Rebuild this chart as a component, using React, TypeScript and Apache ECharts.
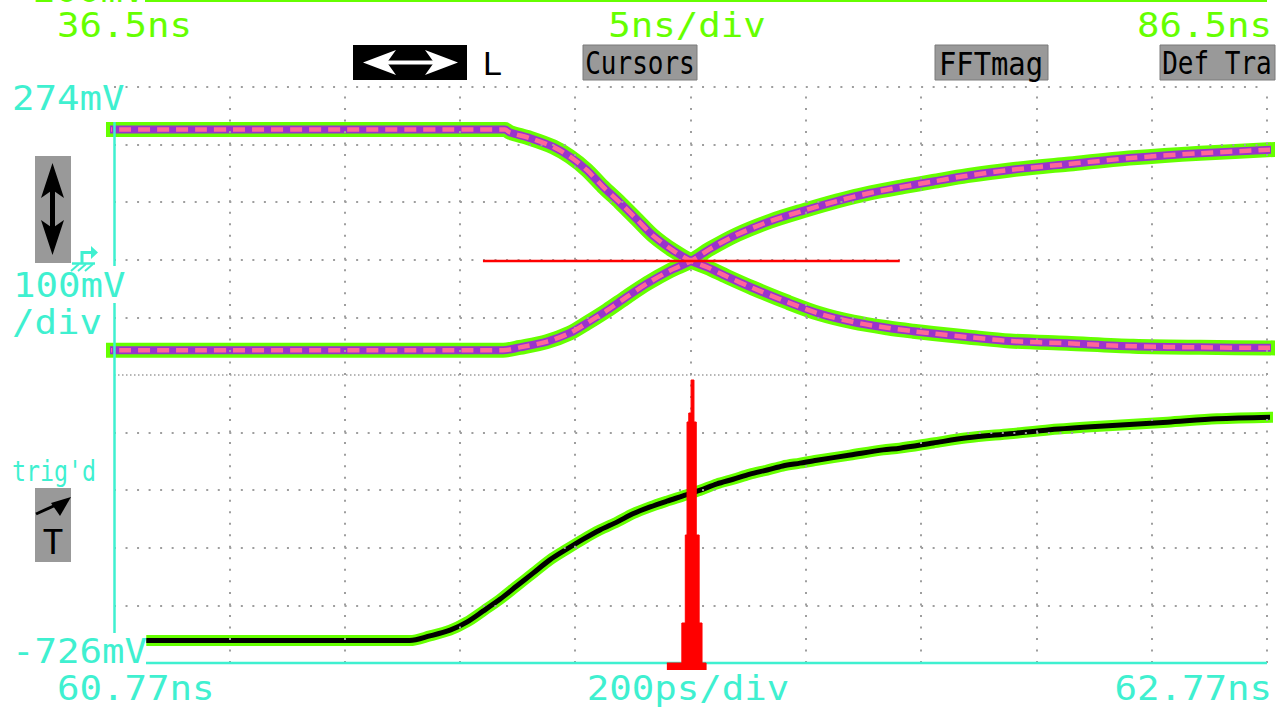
import React, { useEffect, useRef } from "react";
import * as echarts from "echarts";

// ---- axis ranges (lower time base 60.77 ns .. 62.77 ns, 200 ps/div; 274 mV .. -726 mV, 100 mV/div)
const TIME_MIN = 60.77;
const TIME_MAX = 62.77;
const VOLT_MIN = -726;
const VOLT_MAX = 274;
const timeDivLines = [60.97, 61.17, 61.37, 61.57, 61.77, 61.97, 62.17, 62.37, 62.57, 62.77];
const voltDivLines = [274, 174, 74, -26, -126, -326, -426, -526, -626];
const panelSplitVolt = [-226];

// ---- upper window: falling trace
const fallTime = [60.746, 61.448, 61.457, 61.492, 61.532, 61.561, 61.59, 61.618, 61.648, 61.677, 61.705, 61.74, 61.771, 61.799, 61.833, 61.878, 61.937, 61.995, 62.052, 62.111, 62.156, 62.191, 62.25, 62.324, 62.423, 62.538, 62.654, 62.793];
const fallVolt = [200, 200, 195, 185, 170, 153, 130, 101, 73, 44, 16, -10, -28, -39, -55, -75, -99, -120, -134, -144, -150, -154, -160, -167, -171, -176, -178, -179];

// ---- upper window: rising trace
const riseTime = [60.746, 61.445, 61.474, 61.521, 61.561, 61.59, 61.625, 61.66, 61.695, 61.734, 61.771, 61.804, 61.851, 61.908, 61.965, 62.024, 62.081, 62.139, 62.191, 62.25, 62.324, 62.423, 62.538, 62.654, 62.793];
const riseVolt = [-183, -183, -178, -168, -153, -136, -114, -90, -67, -45, -28, -7, 18, 41, 59, 76, 90, 101, 110, 120, 130, 140, 151, 159, 166];

// ---- lower window: edge trace
const edgeTime = [60.826, 61.283, 61.318, 61.353, 61.382, 61.41, 61.44, 61.469, 61.497, 61.526, 61.556, 61.584, 61.613, 61.643, 61.67, 61.7, 61.729, 61.757, 61.787, 61.816, 61.844, 61.873, 61.903, 61.93, 61.96, 61.989, 62.047, 62.104, 62.133, 62.191, 62.25, 62.324, 62.394, 62.48, 62.597, 62.683, 62.793];
const edgeVolt = [-687, -687, -679, -669, -655, -636, -615, -592, -570, -547, -528, -511, -495, -481, -467, -455, -445, -436, -426, -415, -407, -398, -391, -384, -379, -374, -365, -356, -353, -344, -335, -328, -321, -315, -308, -302, -299];

// ---- histogram window (red cursor line) and jitter histogram
const cursorTime = [61.41, 62.133];
const cursorVolt = -28;
const histTime = [61.729, 61.755, 61.761, 61.764, 61.767, 61.771, 61.776, 61.78, 61.785, 61.79, 61.797];
const histHits = [7, 47, 135, 248, 257, 290, 248, 135, 47, 7, 0];
const HIST_MAX = 290;

const GREEN = "#66ff00";
const CYAN = "#3ff0d0";
const PINK = "#ff6699";
const PURPLE = "#9933cc";
const GRAY = "#999999";
const DOT = "#9e9e9e";
const MONO = "'DejaVu Sans Mono', monospace";

const pairs = (xs: number[], ys: number[]) => xs.map((x, i) => [x, ys[i]]);

function label(text: string, x: number, y: number, o: any = {}) {
  return {
    type: "text",
    x,
    y,
    scaleX: o.sx ?? 1.1,
    scaleY: o.sy ?? 1,
    z: 100,
    silent: true,
    style: {
      text,
      fill: o.color ?? CYAN,
      fontSize: o.size ?? 34,
      fontFamily: o.font ?? MONO,
      align: o.align ?? "left",
      verticalAlign: "middle",
    },
  };
}

function traceLayers(name: string, data: number[][], layers: any[]) {
  return layers.map((l, i) => ({
    name: name + i,
    type: "line",
    xAxisIndex: 0,
    yAxisIndex: 0,
    data,
    showSymbol: false,
    symbol: "none",
    clip: false,
    silent: true,
    smooth: 0.3,
    z: 3 + i,
    lineStyle: { color: l.color, width: l.width, type: l.type ?? "solid", cap: "butt", join: "round" },
  }));
}

export default function App() {
  const ref = useRef<HTMLDivElement>(null);
  useEffect(() => {
    document.body.style.margin = "0";
    const chart = echarts.init(ref.current!, null, { renderer: "svg" });
    const fall = pairs(fallTime, fallVolt);
    const rise = pairs(riseTime, riseVolt);
    const edge = pairs(edgeTime, edgeVolt);
    const hist = pairs(histTime, histHits);

    const rowStyle = { color: DOT, width: 2, type: [2, 9.53], cap: "butt" };
    const colStyle = { color: DOT, width: 2, type: [2, 9.52], cap: "butt" };
    const splitStyle = { color: DOT, width: 1.5, type: [1.5, 2.5], cap: "butt" };

    const upperLayers = [
      { color: GREEN, width: 15 },
      { color: PURPLE, width: 8 },
      { color: PINK, width: 4.5, type: [12, 7] },
    ];
    const lowerLayers = [
      { color: GREEN, width: 11 },
      { color: "#000000", width: 5 },
    ];

    const option: any = {
      animation: false,
      backgroundColor: "#ffffff",
      grid: [
        { left: 114, top: 87, width: 1153, height: 576, outerBoundsMode: "none" },
        { left: 114, top: 380, width: 1153, height: 290, outerBoundsMode: "none" },
      ],
      xAxis: [
        { type: "value", gridIndex: 0, min: TIME_MIN, max: TIME_MAX, show: false, splitLine: { show: false } },
        { type: "value", gridIndex: 1, min: TIME_MIN, max: TIME_MAX, show: false, splitLine: { show: false } },
      ],
      yAxis: [
        { type: "value", gridIndex: 0, min: VOLT_MIN, max: VOLT_MAX, show: false, splitLine: { show: false } },
        { type: "value", gridIndex: 1, min: 0, max: HIST_MAX, show: false, splitLine: { show: false } },
      ],
      series: [
        {
          name: "graticule",
          type: "line",
          xAxisIndex: 0,
          yAxisIndex: 0,
          data: [],
          z: 1,
          silent: true,
          markLine: {
            silent: true,
            symbol: ["none", "none"],
            label: { show: false },
            emphasis: { disabled: true },
            animation: false,
            data: [
              ...timeDivLines.map((v) => ({ xAxis: v, lineStyle: colStyle })),
              ...voltDivLines.map((v) => ({ yAxis: v, lineStyle: rowStyle })),
              ...panelSplitVolt.map((v) => ({ yAxis: v, lineStyle: splitStyle })),
            ],
          },
        },
        ...traceLayers("fall", fall, upperLayers),
        ...traceLayers("rise", rise, upperLayers),
        ...traceLayers("edge", edge, lowerLayers),
        {
          name: "cursor",
          type: "line",
          xAxisIndex: 0,
          yAxisIndex: 0,
          data: cursorTime.map((t) => [t, cursorVolt]),
          showSymbol: false,
          symbol: "none",
          silent: true,
          z: 20,
          lineStyle: { color: "#ff0000", width: 2.5 },
        },
        {
          name: "histogram",
          type: "line",
          xAxisIndex: 1,
          yAxisIndex: 1,
          data: hist,
          step: "end",
          showSymbol: false,
          symbol: "none",
          silent: true,
          clip: false,
          z: 60,
          lineStyle: { color: "#ff0000", width: 1 },
          areaStyle: { color: "#ff0000", opacity: 1 },
        },
      ],
      graphic: [
        // cut-off header of previous window
        { type: "rect", z: 50, silent: true, shape: { x: 145, y: 0, width: 1122, height: 2 }, style: { fill: GREEN } },
        label("200mV", 33, -10, { color: GREEN }),
        label("36.5ns", 57, 25, { color: GREEN }),
        label("5ns/div", 687, 25, { color: GREEN, align: "center" }),
        label("86.5ns", 1272, 25, { color: GREEN, align: "right" }),
        // menu buttons
        { type: "rect", z: 50, silent: true, shape: { x: 353, y: 45, width: 114, height: 35 }, style: { fill: "#000000" } },
        { type: "line", z: 51, silent: true, shape: { x1: 372, y1: 62.5, x2: 450, y2: 62.5 }, style: { stroke: "#ffffff", lineWidth: 4 } },
        { type: "polygon", z: 51, silent: true, shape: { points: [[363, 62.5], [396, 50], [387, 62.5], [396, 75]] }, style: { fill: "#ffffff" } },
        { type: "polygon", z: 51, silent: true, shape: { points: [[458, 62.5], [425, 50], [434, 62.5], [425, 75]] }, style: { fill: "#ffffff" } },
        label("L", 483, 63, { color: "#000000", font: "'Liberation Sans', sans-serif", sx: 1 }),
        { type: "rect", z: 50, silent: true, shape: { x: 583, y: 45, width: 114, height: 35 }, style: { fill: GRAY, stroke: "#7a7a7a", lineWidth: 1 } },
        label("Cursors", 640, 63, { color: "#000000", size: 26, sx: 1, sy: 1.25, align: "center" }),
        { type: "rect", z: 50, silent: true, shape: { x: 935, y: 45, width: 113, height: 35 }, style: { fill: GRAY, stroke: "#7a7a7a", lineWidth: 1 } },
        label("FFTmag", 991, 63, { color: "#000000", size: 28, sx: 1.03, sy: 1.17, align: "center" }),
        { type: "rect", z: 50, silent: true, shape: { x: 1160, y: 45, width: 115, height: 35 }, style: { fill: GRAY, stroke: "#7a7a7a", lineWidth: 1 } },
        label("Def Tra", 1217, 63, { color: "#000000", size: 26, sx: 1, sy: 1.25, align: "center" }),
        // left-hand annotations
        label("274mV", 12, 98),
        { type: "rect", z: 50, silent: true, shape: { x: 35, y: 156, width: 36, height: 107 }, style: { fill: GRAY } },
        { type: "line", z: 51, silent: true, shape: { x1: 52.5, y1: 185, x2: 52.5, y2: 233 }, style: { stroke: "#000000", lineWidth: 5 } },
        { type: "polygon", z: 51, silent: true, shape: { points: [[52.5, 163], [64, 198], [52.5, 190], [41, 198]] }, style: { fill: "#000000" } },
        { type: "polygon", z: 51, silent: true, shape: { points: [[52.5, 255], [64, 220], [52.5, 228], [41, 220]] }, style: { fill: "#000000" } },
        { type: "polyline", z: 51, silent: true, shape: { points: [[82, 264], [82, 252.5], [92, 252.5]] }, style: { stroke: CYAN, lineWidth: 3, fill: null } },
        { type: "polygon", z: 51, silent: true, shape: { points: [[91, 246], [98, 252.5], [91, 259]] }, style: { fill: CYAN } },
        { type: "line", z: 51, silent: true, shape: { x1: 72, y1: 263.5, x2: 95, y2: 263.5 }, style: { stroke: CYAN, lineWidth: 2.5 } },
        { type: "line", z: 51, silent: true, shape: { x1: 71, y1: 271, x2: 79, y2: 264 }, style: { stroke: CYAN, lineWidth: 2 } },
        { type: "line", z: 51, silent: true, shape: { x1: 78, y1: 271, x2: 86, y2: 264 }, style: { stroke: CYAN, lineWidth: 2 } },
        { type: "line", z: 51, silent: true, shape: { x1: 85, y1: 271, x2: 93, y2: 264 }, style: { stroke: CYAN, lineWidth: 2 } },
        label("100mV", 13, 285),
        label("/div", 12, 322),
        label("trig'd", 12, 471, { size: 25, sx: 0.93, sy: 1.1 }),
        { type: "rect", z: 50, silent: true, shape: { x: 35, y: 488, width: 36, height: 74 }, style: { fill: GRAY } },
        { type: "line", z: 51, silent: true, shape: { x1: 36, y1: 514, x2: 58, y2: 504 }, style: { stroke: "#000000", lineWidth: 3 } },
        { type: "polygon", z: 51, silent: true, shape: { points: [[71, 497], [51, 503], [60, 516]] }, style: { fill: "#000000" } },
        label("T", 53, 542, { color: "#000000", sx: 1, align: "center" }),
        label("-726mV", 12, 651),
        // channel reference lines
        { type: "line", z: 50, silent: true, shape: { x1: 114.5, y1: 122, x2: 114.5, y2: 266 }, style: { stroke: CYAN, lineWidth: 2.5 } },
        { type: "line", z: 50, silent: true, shape: { x1: 114.5, y1: 303, x2: 114.5, y2: 633 }, style: { stroke: CYAN, lineWidth: 2.5 } },
        { type: "line", z: 50, silent: true, shape: { x1: 146, y1: 663, x2: 1267, y2: 663 }, style: { stroke: CYAN, lineWidth: 2.5 } },
        // footer
        label("60.77ns", 57, 688),
        label("200ps/div", 688, 688, { align: "center" }),
        label("62.77ns", 1272, 688, { align: "right" }),
      ],
    };
    chart.setOption(option);
    return () => chart.dispose();
  }, []);
  return (
    <div
      ref={ref}
      style={{ position: "fixed", left: 0, top: 0, width: 1283, height: 707, background: "#ffffff" }}
    />
  );
}
